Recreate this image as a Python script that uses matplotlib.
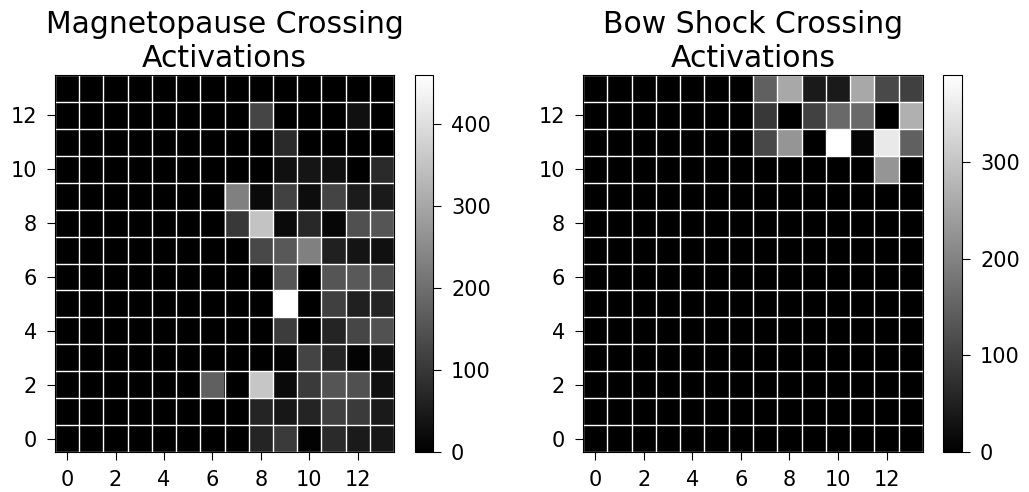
import numpy as np
import matplotlib
matplotlib.use("Agg")
import matplotlib.pyplot as plt

N = 14

# Activation counts per (row, col) cell, row 0 at the bottom
# Magnetopause crossing: nonzero cells only, {row: {col: value}}
mp_cells = {
    12: {8: 124, 12: 29},
    11: {9: 76},
    10: {9: 29, 10: 38, 11: 29, 13: 76},
    9: {7: 231, 8: 18, 9: 119, 10: 25, 11: 123, 12: 50, 13: 47},
    8: {7: 101, 8: 352, 9: 18, 10: 72, 11: 11, 12: 144, 13: 153},
    7: {8: 130, 9: 159, 10: 231, 11: 61, 12: 36, 13: 29},
    6: {9: 153, 11: 153, 12: 162, 13: 144},
    5: {9: 460, 11: 115, 12: 61, 13: 67},
    4: {9: 108, 11: 65, 12: 126, 13: 148},
    3: {9: 5, 10: 123, 11: 65, 12: 7, 13: 25},
    2: {6: 173, 8: 357, 9: 18, 10: 105, 11: 153, 12: 144, 13: 29},
    1: {8: 65, 9: 43, 10: 68, 11: 115, 12: 105, 13: 47},
    0: {8: 65, 9: 105, 10: 4, 11: 76, 12: 47, 13: 43},
}

# Bow shock crossing
bs_cells = {
    13: {7: 147, 8: 257, 9: 40, 10: 40, 11: 257, 12: 113, 13: 98},
    12: {7: 86, 9: 101, 10: 162, 11: 162, 13: 269},
    11: {7: 110, 8: 228, 10: 390, 11: 8, 12: 355, 13: 147},
    10: {12: 228},
}

titles = ["Magnetopause Crossing\nActivations", "Bow Shock Crossing\nActivations"]
cbar_ticks = [[0, 100, 200, 300, 400], [0, 100, 200, 300]]


def to_grid(cells):
    grid = np.zeros((N, N))
    for r, cols in cells.items():
        for c, v in cols.items():
            grid[r, c] = v
    return grid


grids = [to_grid(mp_cells), to_grid(bs_cells)]

W, H = 1029, 492
fig = plt.figure(figsize=(W / 100, H / 100), dpi=100)

ax_boxes = [(55, 394), (583, 923)]
cb_boxes = [(415, 433), (943, 962)]
top, bottom = 75, 452

for grid, title, ticks, (x0, x1), (c0, c1) in zip(grids, titles, cbar_ticks, ax_boxes, cb_boxes):
    ax = fig.add_axes([x0 / W, (H - bottom) / H, (x1 - x0) / W, (bottom - top) / H])
    cax = fig.add_axes([c0 / W, (H - bottom) / H, (c1 - c0) / W, (bottom - top) / H])

    im = ax.imshow(grid, cmap="gray", origin="lower", aspect="auto",
                   vmin=0, vmax=grid.max(), interpolation="nearest")
    ax.set_xticks(np.arange(0, N, 2))
    ax.set_yticks(np.arange(0, N, 2))
    ax.set_xticks(np.arange(-0.5, N, 1), minor=True)
    ax.set_yticks(np.arange(-0.5, N, 1), minor=True)
    ax.grid(which="minor", color="white", linewidth=1.0)
    ax.tick_params(which="minor", length=0)
    ax.tick_params(which="major", labelsize=15, length=6, pad=7)
    ax.set_title(title, fontsize=21.5)

    cb = fig.colorbar(im, cax=cax)
    cb.set_ticks(ticks)
    cb.ax.tick_params(labelsize=15, length=6, pad=7)

fig.savefig("out.png", dpi=100)
